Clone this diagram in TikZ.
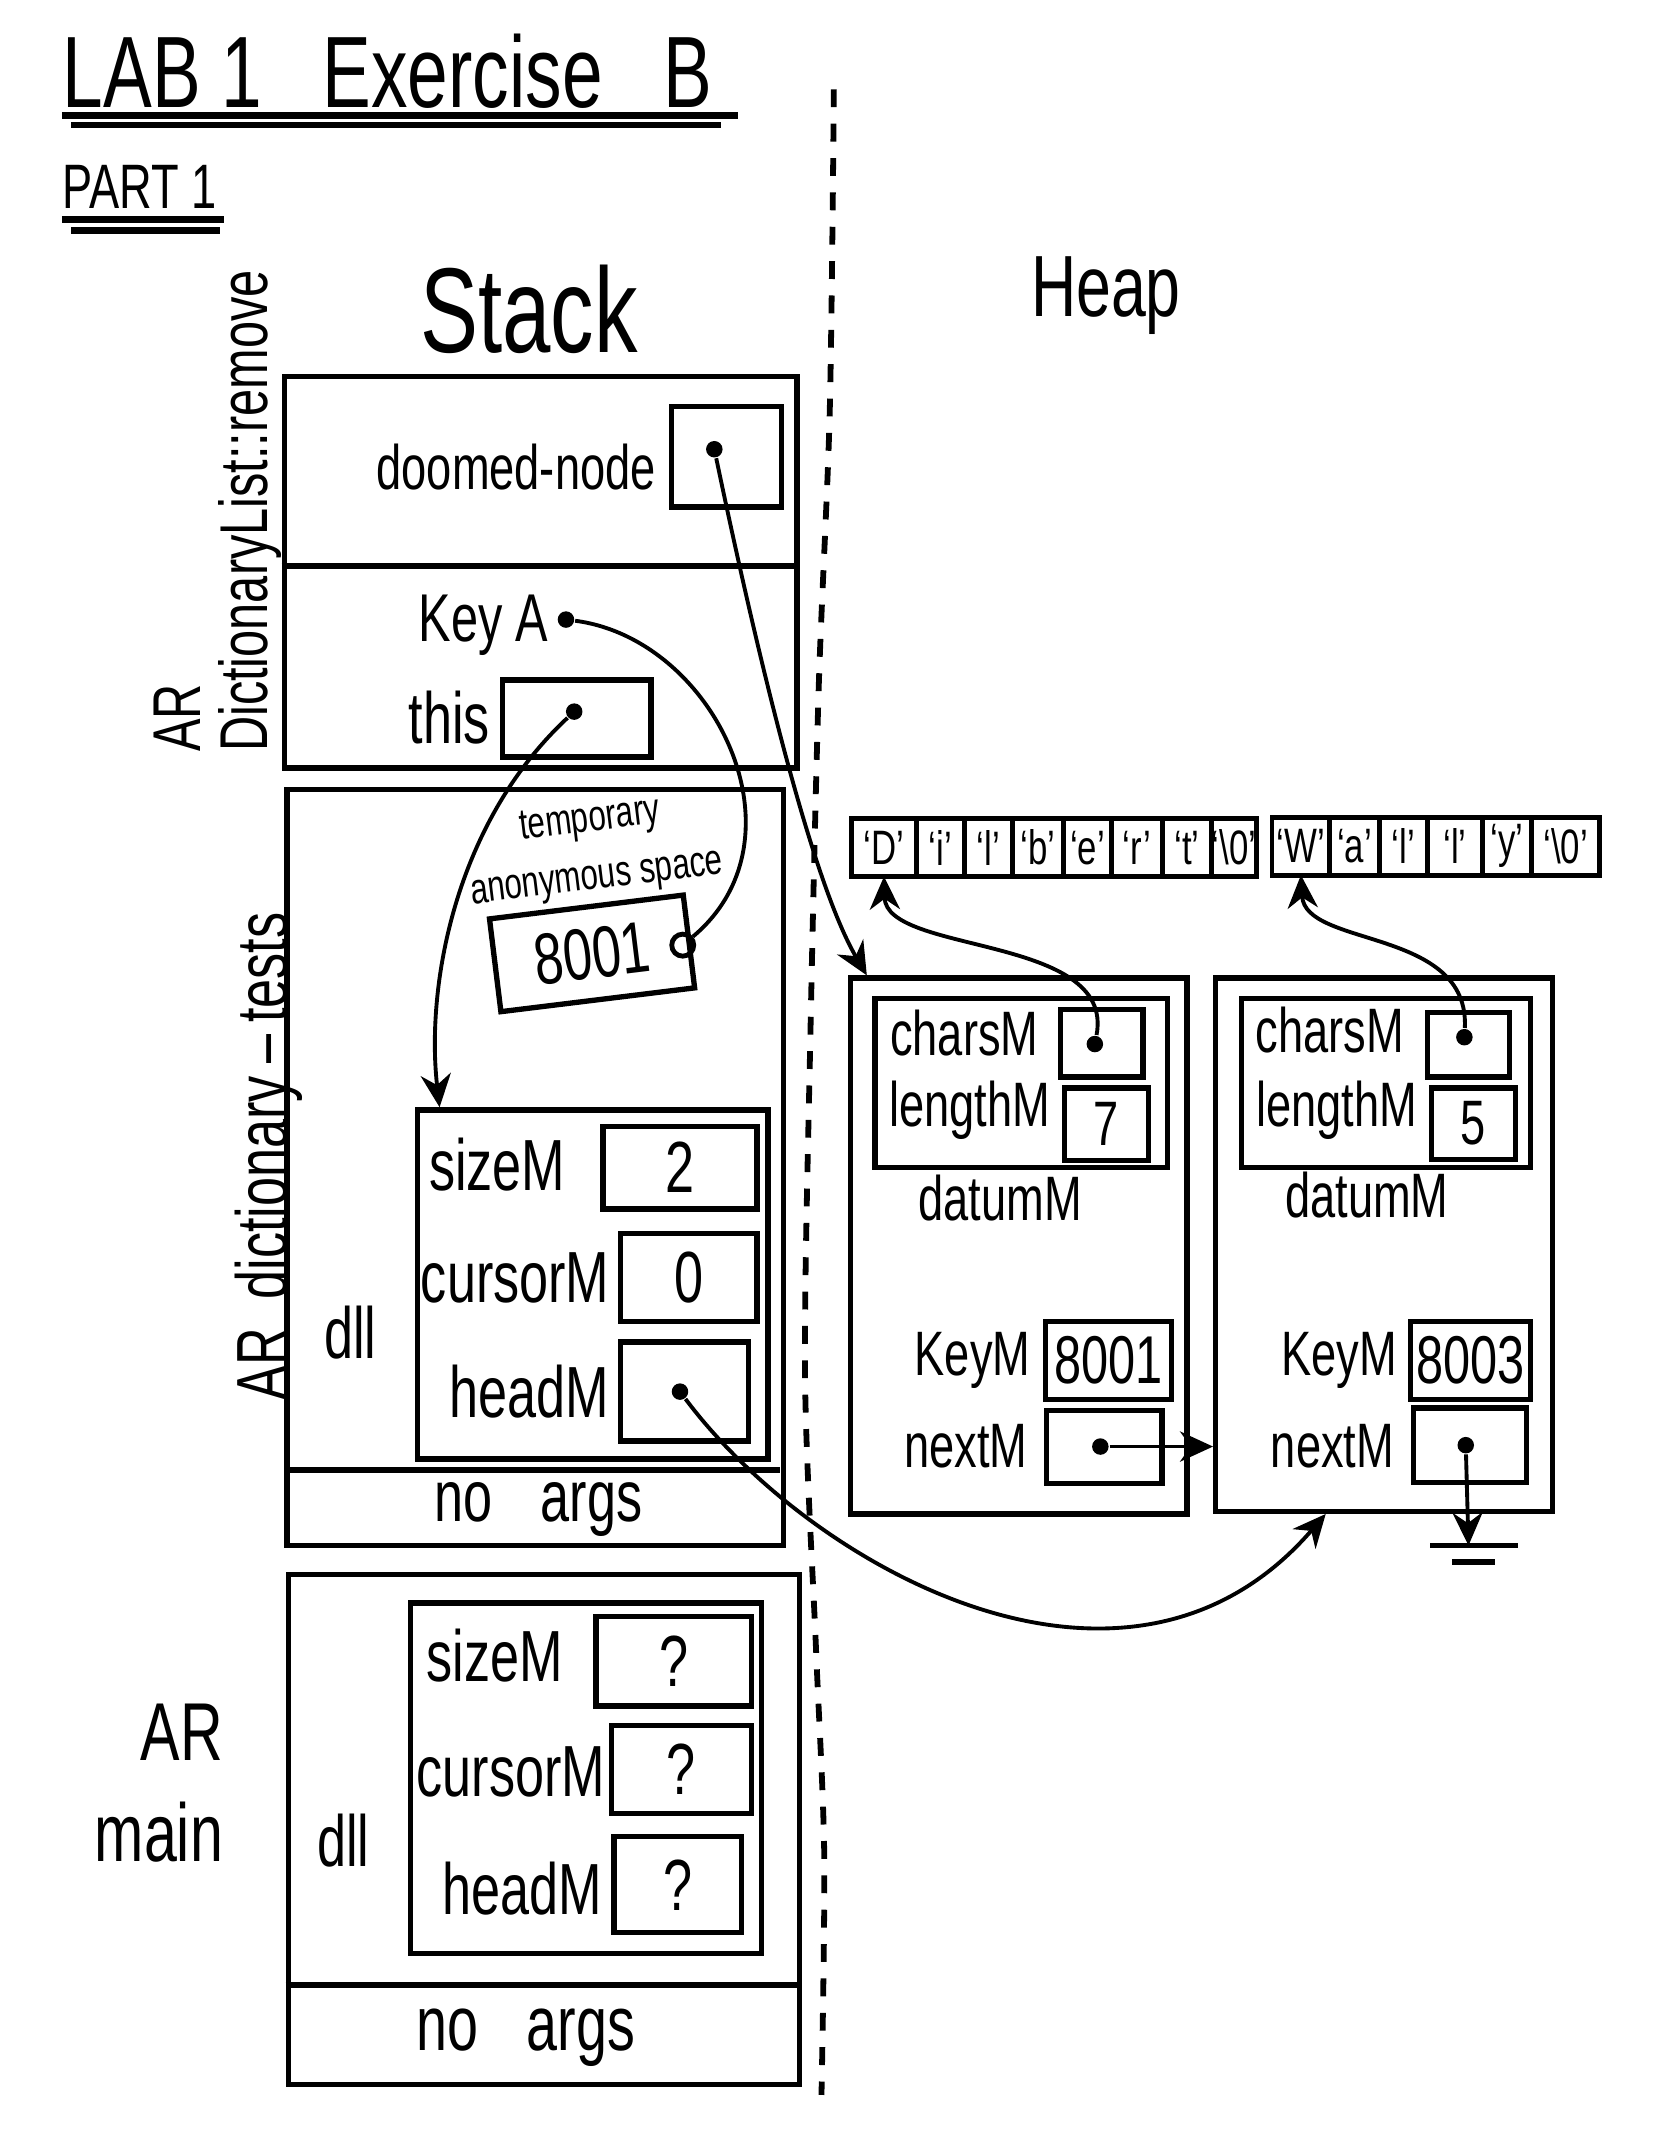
\documentclass[tikz,border=0pt]{standalone}
\usepackage{fontspec}
\setmainfont{Liberation Sans}[FakeStretch=0.72]
\usepackage{tikz}
\usetikzlibrary{arrows.meta,positioning}
\newcommand{\penfont}[1]{\fontsize{#1}{#1}\selectfont}

\begin{document}
\begin{tikzpicture}[x=0.01cm,y=-0.01cm,
  arbox/.style={draw,line width=1.1pt,inner sep=0pt,anchor=north west},
  valbox/.style={draw,line width=1.1pt,inner sep=0pt,anchor=north west,font=\penfont{15}},
  fieldlbl/.style={font=\penfont{15},inner sep=0pt},
  heaplbl/.style={font=\penfont{13},inner sep=0pt},
  ptrdot/.style={circle,fill,inner sep=0pt,minimum size=1.2mm},
  ptr/.style={line width=0.8pt,-{Stealth[length=2.4mm,width=2.2mm]}},
  charcell/.style={draw,line width=1pt,minimum height=4.2mm,minimum width=3.6mm,inner sep=0pt,outer sep=0pt,font=\penfont{10}}]
  \useasboundingbox (0,0) rectangle (1214,1568);

  % title
  \node[font=\penfont{21},anchor=base west,inner sep=0pt] (title) at (45,78) {LAB 1\ \ \ Exercise\ \ \ B};
  \draw[line width=1.4pt] (45,84) -- (537,84) (52,91) -- (525,91);
  \node[font=\penfont{13},anchor=base west,inner sep=0pt] (part) at (45,152) {PART 1};
  \draw[line width=1.4pt] (45,160) -- (163,160) (52,168) -- (160,168);

  \node[font=\penfont{25}] (stackLbl) at (385,225) {Stack};
  \node[font=\penfont{18}] (heapLbl) at (805,215) {Heap};
  % stack | heap
  \draw[line width=1.2pt,dash pattern=on 1.3mm off 1.2mm] plot[smooth] coordinates {(607,65) (604,300) (596,500) (590,750) (586,1000) (594,1200) (600,1350) (598,1525)};

  % AR DictionaryList::remove
  \node[arbox,minimum width=3.73cm,minimum height=2.85cm] (remFrame) at (205,272) {};
  \draw[line width=1.1pt] (205,412) -- (578,412);
  \node[font=\penfont{14},rotate=90,align=left,anchor=south west,inner sep=0pt] (remLbl) at (206,548) {AR\\DictionaryList::remove};
  \node[fieldlbl,font=\penfont{13},anchor=east] (doomLbl) at (478,340) {doomed-node};
  \node[valbox,minimum width=0.8cm,minimum height=0.73cm] (doomBox) at (487,294) {};
  \node[ptrdot] (doomDot) at (520,327) {};
  \node[fieldlbl,font=\penfont{14}] (keyLbl) at (352,455) {Key A};
  \node[ptrdot] (keyDot) at (412,451) {};
  \node[fieldlbl] (thisLbl) at (327,522) {this};
  \node[valbox,minimum width=1.08cm,minimum height=0.56cm] (thisBox) at (364,493) {};
  \node[ptrdot] (thisDot) at (418,518) {};

  % AR dictionary-tests
  \node[arbox,minimum width=3.61cm,minimum height=5.5cm] (testFrame) at (207,573) {};
  \draw[line width=1.1pt] (207,1070) -- (568,1070);
  \node[font=\penfont{15},inner sep=0pt] (noArgs1) at (392,1099) {no\hspace{0.35cm}args};
  \node[font=\penfont{15},rotate=90,inner sep=0pt] (testLbl) at (196,842) {AR\ \ dictionary\,--\,tests};
  \node[font={\fontsize{9}{12}\selectfont},rotate=7,align=center,inner sep=0pt] (tempLbl) at (432,619) {temporary\\anonymous space};
  \node[draw,line width=1.1pt,rotate=7,minimum width=1.42cm,minimum height=0.68cm,font=\penfont{15}] (tempBox) at (431,694) {8001};
  \node[circle,draw,line width=1pt,inner sep=0pt,minimum size=1.6mm] (tempRing) at (497,688) {};
  \node[fieldlbl] (dllLbl1) at (255,970) {dll};
  \node[arbox,minimum width=2.55cm,minimum height=2.54cm] (dllBox) at (302,806) {};
  \node[fieldlbl] (sizeLbl1) at (362,848) {sizeM};
  \node[valbox,minimum width=1.12cm,minimum height=0.6cm] (sizeBox1) at (437,818) {2};
  \node[fieldlbl] (cursorLbl1) at (375,930) {cursorM};
  \node[valbox,minimum width=0.99cm,minimum height=0.64cm] (cursorBox1) at (450,896) {0};
  \node[fieldlbl] (headLbl1) at (385,1013) {headM};
  \node[valbox,minimum width=0.93cm,minimum height=0.72cm] (headBox1) at (450,975) {};
  \node[ptrdot] (headDot) at (495,1013) {};

  % AR main
  \node[arbox,minimum width=3.72cm,minimum height=3.71cm] (mainFrame) at (208,1144) {};
  \draw[line width=1.1pt] (208,1445) -- (580,1445);
  \node[font=\penfont{16},inner sep=0pt] (noArgs2) at (383,1483) {no\hspace{0.35cm}args};
  \node[font={\fontsize{17}{21}\selectfont},align=right,anchor=east,inner sep=0pt] (mainLbl) at (163,1298) {AR\\main};
  \node[fieldlbl] (dllLbl2) at (250,1340) {dll};
  \node[arbox,minimum width=2.55cm,minimum height=2.55cm] (mainDll) at (297,1165) {};
  \node[fieldlbl] (sizeLbl2) at (360,1205) {sizeM};
  \node[valbox,minimum width=1.13cm,minimum height=0.65cm] (sizeBox2) at (432,1175) {?};
  \node[fieldlbl] (cursorLbl2) at (372,1290) {cursorM};
  \node[valbox,minimum width=1.02cm,minimum height=0.64cm] (cursorBox2) at (443,1254) {?};
  \node[fieldlbl] (headLbl2) at (380,1375) {headM};
  \node[valbox,minimum width=0.93cm,minimum height=0.7cm] (headBox2) at (445,1335) {?};

  % char arrays
  \node[charcell,minimum width=4.7mm,anchor=north west] (c1) at (620,596) {`D'};
  \node[charcell,minimum width=3.5mm,right=0pt of c1] (c2) {`i'};
  \node[charcell,minimum width=3.5mm,right=0pt of c2] (c3) {`l'};
  \node[charcell,minimum width=3.7mm,right=0pt of c3] (c4) {`b'};
  \node[charcell,minimum width=3.5mm,right=0pt of c4] (c5) {`e'};
  \node[charcell,minimum width=3.7mm,right=0pt of c5] (c6) {`r'};
  \node[charcell,right=0pt of c6] (c7) {`t'};
  \node[charcell,minimum width=3mm,right=0pt of c7] (c8) {`\textbackslash 0'};

  \node[charcell,minimum width=4.2mm,anchor=north west] (w1) at (926,595) {`W'};
  \node[charcell,right=0pt of w1] (w2) {`a'};
  \node[charcell,minimum width=3.5mm,right=0pt of w2] (w3) {`l'};
  \node[charcell,minimum width=4mm,right=0pt of w3] (w4) {`l'};
  \node[charcell,right=0pt of w4] (w5) {`y'};
  \node[charcell,minimum width=4.9mm,right=0pt of w5] (w6) {`\textbackslash 0'};

  % heap node 1
  \node[arbox,minimum width=2.45cm,minimum height=3.9cm] (node1) at (617,710) {};
  \node[arbox,minimum width=2.13cm,minimum height=1.23cm] (datum1) at (635,725) {};
  \node[heaplbl] (charsLbl1) at (702,752) {charsM};
  \node[valbox,minimum width=0.6cm,minimum height=0.49cm] (charsBox1) at (770,733) {};
  \node[ptrdot] (charsDot1) at (797,760) {};
  \node[heaplbl] (lenLbl1) at (706,808) {lengthM};
  \node[valbox,minimum width=0.61cm,minimum height=0.53cm,font=\penfont{13}] (lenBox1) at (773,790) {7};
  \node[heaplbl] (datumLbl1) at (728,872) {datumM};
  \node[heaplbl] (keyMLbl1) at (708,990) {KeyM};
  \node[valbox,minimum width=0.92cm,minimum height=0.57cm,font=\penfont{14}] (keyBox1) at (759,960) {8001};
  \node[heaplbl] (nextLbl1) at (703,1053) {nextM};
  \node[valbox,minimum width=0.84cm,minimum height=0.53cm] (nextBox1) at (760,1025) {};
  \node[ptrdot] (nextDot1) at (801,1053) {};

  % heap node 2
  \node[arbox,minimum width=2.45cm,minimum height=3.88cm] (node2) at (883,710) {};
  \node[arbox,minimum width=2.1cm,minimum height=1.23cm] (datum2) at (902,725) {};
  \node[heaplbl] (charsLbl2) at (968,750) {charsM};
  \node[valbox,minimum width=0.6cm,minimum height=0.47cm] (charsBox2) at (1037,735) {};
  \node[ptrdot] (charsDot2) at (1066,755) {};
  \node[heaplbl] (lenLbl2) at (973,808) {lengthM};
  \node[valbox,minimum width=0.61cm,minimum height=0.52cm,font=\penfont{13}] (lenBox2) at (1040,790) {5};
  \node[heaplbl] (datumLbl2) at (995,870) {datumM};
  \node[heaplbl] (keyMLbl2) at (975,990) {KeyM};
  \node[valbox,minimum width=0.87cm,minimum height=0.57cm,font=\penfont{14}] (keyBox2) at (1025,960) {8003};
  \node[heaplbl] (nextLbl2) at (970,1053) {nextM};
  \node[valbox,minimum width=0.82cm,minimum height=0.54cm] (nextBox2) at (1027,1023) {};
  \node[ptrdot] (nextDot2) at (1067,1052) {};
  \coordinate (gnd) at (1069,1125);

  % pointers
  \draw[ptr] (doomDot) .. controls (550,470) and (590,640) .. ([xshift=0.14cm]node1.north west);
  \draw[line width=0.8pt] (keyDot) .. controls (520,465) and (590,610) .. (tempRing);
  \draw[ptr] (thisDot) .. controls (330,600) and (310,720) .. ([xshift=0.18cm]dllBox.north west);
  \draw[ptr] (headDot) .. controls (590,1140) and (820,1270) .. ([xshift=0.82cm]node2.south west);
  \draw[ptr] (charsDot1) .. controls (812,680) and (645,695) .. (c1.south);
  \draw[ptr] (charsDot2) .. controls (1070,675) and (950,690) .. (w1.south);
  \draw[ptr] (nextDot1) -- (nextDot1 -| node2.west);
  \draw[ptr] (nextDot2) -- (gnd);
  \draw[line width=1.2pt] ([xshift=-0.28cm]gnd) -- ([xshift=0.36cm]gnd)
    ([xshift=-0.12cm,yshift=-0.12cm]gnd) -- ([xshift=0.19cm,yshift=-0.12cm]gnd);
\end{tikzpicture}
\end{document}
